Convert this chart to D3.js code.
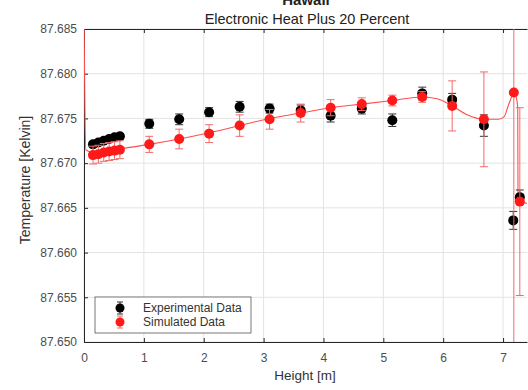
<!DOCTYPE html>
<html>
<head>
<meta charset="utf-8">
<script src="https://cdn.jsdelivr.net/npm/d3@7"></script>
<style>
  html, body { margin: 0; padding: 0; background: #fff; }
  svg { display: block; font-family: "Liberation Sans", Arial, sans-serif; }
</style>
</head>
<body>
<svg id="chart" width="528" height="390"></svg>
<script>
// ---- data ----
const titleMain = "Hawaii";
const titleSub = "Electronic Heat Plus 20 Percent";
const xLabel = "Height [m]";
const yLabel = "Temperature [Kelvin]";
const xTicks = [0, 1, 2, 3, 4, 5, 6, 7];
const yTicks = [87.650, 87.655, 87.660, 87.665, 87.670, 87.675, 87.680, 87.685];

const expHeight = [0.15, 0.24, 0.33, 0.42, 0.51, 0.60, 1.09, 1.59, 2.09, 2.60, 3.10, 3.62, 4.12, 4.64, 5.15, 5.65, 6.15, 6.68, 7.17, 7.28];
const expTemp   = [87.6721, 87.6723, 87.6725, 87.6727, 87.6729, 87.6730, 87.6744, 87.6749, 87.6757, 87.6763, 87.6761, 87.6759, 87.6753, 87.6761, 87.6748, 87.6778, 87.6771, 87.6742, 87.6636, 87.6662];
const expErr    = [0.0003, 0.0003, 0.0003, 0.0003, 0.0003, 0.0003, 0.0005, 0.0006, 0.0005, 0.0006, 0.0005, 0.0006, 0.0007, 0.0006, 0.0007, 0.0007, 0.0007, 0.0012, 0.0010, 0.0008];

const simHeight = [0.15, 0.24, 0.33, 0.42, 0.51, 0.60, 1.09, 1.59, 2.09, 2.60, 3.10, 3.62, 4.12, 4.64, 5.15, 5.65, 6.15, 6.68, 7.18, 7.28];
const simTemp   = [87.6709, 87.6710, 87.6712, 87.6713, 87.6714, 87.6715, 87.6721, 87.6727, 87.6733, 87.6742, 87.6749, 87.6756, 87.6762, 87.6766, 87.6770, 87.6774, 87.6764, 87.6749, 87.6779, 87.6657];
const simErr    = [0.0010, 0.0010, 0.0010, 0.0010, 0.0010, 0.0010, 0.0009, 0.0011, 0.0010, 0.0012, 0.0011, 0.0010, 0.0009, 0.0007, 0.0006, 0.0006, 0.0028, 0.0053, 0.0300, 0.0105];

// simulated profile curve
const curveHeight = [0.00, 0.03, 0.15, 0.60, 1.09, 1.59, 2.09, 2.60, 3.10, 3.62, 4.12, 4.64, 5.15, 5.65, 5.90, 6.15, 6.40, 6.68, 6.92, 7.02, 7.08, 7.13, 7.18, 7.22, 7.245, 7.25, 7.28, 7.40];
const curveTemp   = [87.6870, 87.6715, 87.6712, 87.6716, 87.6721, 87.6727, 87.6734, 87.6742, 87.6750, 87.6756, 87.6762, 87.6766, 87.6770, 87.6774, 87.6772, 87.6764, 87.6754, 87.6749, 87.6749, 87.6752, 87.6763, 87.6772, 87.6779, 87.6774, 87.6762, 87.6660, 87.6657, 87.6655];

const legendLabels = ["Experimental Data", "Simulated Data"];

// ---- layout ----
const svg = d3.select("#chart");
const L = 84, R = 527, T = 29, B = 342;
const x = d3.scaleLinear().domain([0, 7.4]).range([L, R]);
const y = d3.scaleLinear().domain([87.650, 87.685]).range([B, T]);

const axisCol = "#262626";
const textCol = "#4d4d4d";
const redC = "#ff1a1a";
const redBar = "#f26a6a";
const FONT = "Liberation Sans, Arial, sans-serif";

svg.append("rect").attr("x", 0).attr("y", 0).attr("width", 528).attr("height", 390).attr("fill", "#fff");

svg.append("defs").append("clipPath").attr("id", "clip")
  .append("rect").attr("x", L).attr("y", T).attr("width", R - L).attr("height", B - T);

// grid
const grid = svg.append("g");
grid.selectAll("line.gx").data(xTicks).join("line")
  .attr("x1", d => x(d)).attr("x2", d => x(d)).attr("y1", T).attr("y2", B)
  .attr("stroke", "#e3e3e3").attr("stroke-width", 1);
grid.selectAll("line.gy").data(yTicks).join("line")
  .attr("x1", L).attr("x2", R).attr("y1", d => y(d)).attr("y2", d => y(d))
  .attr("stroke", "#e3e3e3").attr("stroke-width", 1);

// axes
const xAxis = d3.axisBottom(x).tickValues(xTicks).tickFormat(d3.format("d")).tickSizeInner(-4).tickSizeOuter(0).tickPadding(11);
const gx = svg.append("g").attr("transform", `translate(0,${B})`).call(xAxis);
const xTop = d3.axisTop(x).tickValues(xTicks).tickFormat("").tickSizeInner(-4).tickSizeOuter(0);
const gxt = svg.append("g").attr("transform", `translate(0,${T})`).call(xTop);
const yAxis = d3.axisLeft(y).tickValues(yTicks).tickFormat(d3.format(".3f")).tickSizeInner(-4).tickSizeOuter(0).tickPadding(7);
const gy = svg.append("g").attr("transform", `translate(${L},0)`).call(yAxis);
[gx, gxt, gy].forEach(g => {
  g.select(".domain").attr("stroke", axisCol).attr("stroke-width", 1);
  g.selectAll(".tick line").attr("stroke", axisCol);
  g.selectAll(".tick text").attr("fill", textCol).attr("font-size", 12).attr("font-family", FONT);
});

const plot = svg.append("g").attr("clip-path", "url(#clip)");

// simulated curve
const curvePts = curveHeight.map((h, i) => [h, curveTemp[i]]);
plot.append("path").datum(curvePts)
  .attr("d", d3.line().x(d => x(d[0])).y(d => y(d[1])).curve(d3.curveMonotoneX))
  .attr("fill", "none").attr("stroke", "#ff4d4d").attr("stroke-width", 1.1);

function drawSeries(hs, ts, es, barColor, dotColor) {
  const data = hs.map((h, i) => ({ h, t: ts[i], e: es[i] }));
  const g = plot.append("g");
  g.selectAll("line.v").data(data).join("line")
    .attr("x1", d => x(d.h)).attr("x2", d => x(d.h))
    .attr("y1", d => y(d.t - d.e)).attr("y2", d => y(d.t + d.e))
    .attr("stroke", barColor).attr("stroke-width", 1);
  ["lo", "hi"].forEach(k => {
    g.selectAll("line.c" + k).data(data).join("line")
      .attr("x1", d => x(d.h) - 4).attr("x2", d => x(d.h) + 4)
      .attr("y1", d => y(k === "lo" ? d.t - d.e : d.t + d.e))
      .attr("y2", d => y(k === "lo" ? d.t - d.e : d.t + d.e))
      .attr("stroke", barColor).attr("stroke-width", 1);
  });
  g.selectAll("circle").data(data).join("circle")
    .attr("cx", d => x(d.h)).attr("cy", d => y(d.t)).attr("r", 5)
    .attr("fill", dotColor);
}
drawSeries(expHeight, expTemp, expErr, "#333", "#000");
drawSeries(simHeight, simTemp, simErr, redBar, redC);

// titles
svg.append("text").attr("x", 306).attr("y", 5).attr("text-anchor", "middle")
  .attr("font-size", 15).attr("font-weight", "bold").attr("fill", "#222").text(titleMain);
svg.append("text").attr("x", 307).attr("y", 24).attr("text-anchor", "middle")
  .attr("font-size", 14.5).attr("fill", "#222").text(titleSub);
svg.append("text").attr("x", 305).attr("y", 380).attr("text-anchor", "middle")
  .attr("font-size", 13.5).attr("fill", "#333").text(xLabel);
svg.append("text").attr("transform", `translate(30,180) rotate(-90)`).attr("text-anchor", "middle")
  .attr("font-size", 14).attr("fill", "#333").text(yLabel);

// legend
const lg = svg.append("g").attr("transform", "translate(95,297)");
lg.append("rect").attr("x", 0).attr("y", 0).attr("width", 156).attr("height", 36)
  .attr("fill", "#fff").attr("stroke", "#555").attr("stroke-width", 0.8);
const legCols = [["#333", "#000"], [redBar, redC]];
legendLabels.forEach((lab, i) => {
  const cy = 11 + i * 14;
  lg.append("line").attr("x1", 25).attr("x2", 25).attr("y1", cy - 6).attr("y2", cy + 6).attr("stroke", legCols[i][0]);
  lg.append("line").attr("x1", 22).attr("x2", 28).attr("y1", cy - 6).attr("y2", cy - 6).attr("stroke", legCols[i][0]);
  lg.append("line").attr("x1", 22).attr("x2", 28).attr("y1", cy + 6).attr("y2", cy + 6).attr("stroke", legCols[i][0]);
  lg.append("circle").attr("cx", 25).attr("cy", cy).attr("r", 4.5).attr("fill", legCols[i][1]);
  lg.append("text").attr("x", 48).attr("y", cy + 4).attr("font-size", 12).attr("fill", "#333").text(lab);
});
</script>
</body>
</html>
